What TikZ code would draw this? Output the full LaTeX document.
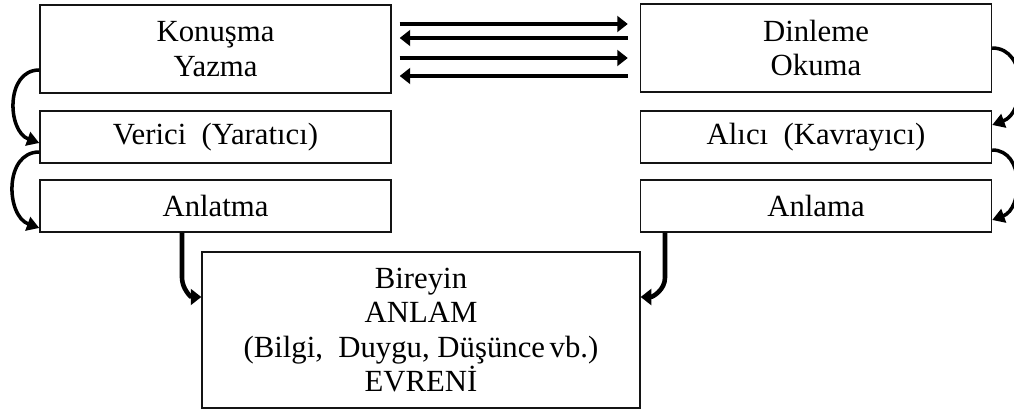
\documentclass[tikz,border=0pt]{standalone}
\usepackage{fontspec}
\setmainfont{Liberation Serif}
\usepackage{tikz}
\usetikzlibrary{arrows.meta, positioning, calc}
\definecolor{mydark}{RGB}{20,20,20}
\tikzset{
  block/.style={rectangle, draw=mydark, fill=white,
    minimum width=7.02cm, align=center, inner sep=0pt,
    font=\fontsize{17.5}{19.5}\selectfont, line width=0.8pt},
  flowarrow/.style={-{Triangle[length=6pt, width=9pt]}, line width=2.4pt, color=black},
  bendarrow/.style={-{Triangle[length=7pt, width=8pt]}, line width=2pt, color=black},
  downarrow/.style={-{Triangle[length=6pt, width=9pt]}, line width=2.6pt, color=black}
}

\begin{document}
\begin{tikzpicture}
  \useasboundingbox (0,0) rectangle (20.28,-8.18);

  % --- Left column ---
  \node[block, minimum height=1.76cm] (konusma) at (4.31,-0.98) {Konuşma\\Yazma};
  \node[block, minimum height=1.04cm] (verici) at (4.31,-2.74) {Verici\ \ (Yaratıcı)};
  \node[block, minimum height=1.04cm] (anlatma) at (4.31,-4.12) {Anlatma};

  % --- Right column ---
  \node[block, minimum height=1.76cm] (dinleme) at (16.32,-0.96) {Dinleme\\Okuma};
  \node[block, minimum height=1.04cm] (alici) at (16.32,-2.74) {Alıcı\ \ (Kavrayıcı)};
  \node[block, minimum height=1.04cm] (anlama) at (16.32,-4.12) {Anlama};

  % --- Bottom ---
  \node[block, minimum width=8.76cm, minimum height=3.12cm] (evren) at (8.42,-6.6)
    {Bireyin\\ANLAM\\(Bilgi,\ \ Duygu, Düşünce\hspace{0.15em}vb.)\\EVRENİ};

  % two-way arrows between top boxes
  \foreach \dy/\tip in {0.5/right, 0.22/left, -0.18/right, -0.54/left}{
    \ifnum\pdfstrcmp{\tip}{right}=0
      \draw[flowarrow, shorten <=0.16cm, shorten >=0.24cm]
        ([yshift=\dy cm]konusma.east) -- ([yshift=\dy cm]konusma.east -| dinleme.west);
    \else
      \draw[flowarrow, shorten <=0.24cm, shorten >=0.16cm]
        ([yshift=\dy cm]konusma.east -| dinleme.west) -- ([yshift=\dy cm]konusma.east);
    \fi
  }

  % bent arrows on the left side
  \draw[bendarrow] ([yshift=-0.42cm]konusma.west) to[out=180, in=160, looseness=1.2] ([yshift=-0.12cm]verici.west);
  \draw[bendarrow] ([yshift=-0.3cm]verici.west) to[out=180, in=160, looseness=1.2] ([yshift=-0.44cm]anlatma.west);

  % bent arrows on the right side
  \draw[bendarrow] ([yshift=0.0cm]dinleme.east) to[out=0, in=20, looseness=1.2] ([yshift=0.24cm]alici.east);
  \draw[bendarrow] ([yshift=-0.26cm]alici.east) to[out=0, in=20, looseness=1.2] ([yshift=-0.28cm]anlama.east);

  % into the bottom box
  \draw[downarrow] ([xshift=-0.67cm]anlatma.south) -- ++(0,-0.9)
    to[out=-90, in=180] ([yshift=0.66cm]evren.west);
  \draw[downarrow] ([xshift=-3.02cm]anlama.south) -- ++(0,-0.9)
    to[out=-90, in=0] ([yshift=0.66cm]evren.east);
\end{tikzpicture}
\end{document}
